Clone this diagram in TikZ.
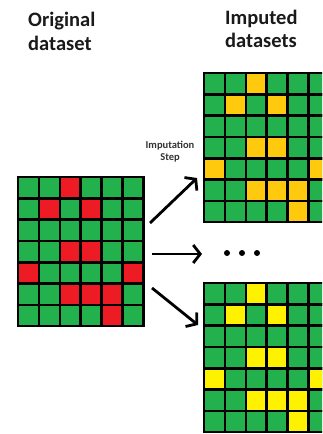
\documentclass[tikz,border=0pt]{standalone}
\usepackage{fontspec}
\setmainfont{Carlito}
\usetikzlibrary{arrows.meta,positioning}
\definecolor{cellgreen}{HTML}{22B14C}
\definecolor{miss}{HTML}{ED1C24}
\definecolor{gold}{HTML}{FFC90E}
\definecolor{lemon}{HTML}{FFF200}
\definecolor{ink}{HTML}{1A1A1A}
\definecolor{note}{HTML}{333333}

% 6x7 table, top left corner at (#1,#2), missing cells filled with #3
\newcommand{\datagrid}[3]{%
  \foreach \c in {0,...,5}
    \foreach \r in {0,...,6}
      \draw[cell] ({#1+\c*20.9},{#2+\r*21.3}) rectangle ++(20.9,21.3);
  \foreach \c/\r in {2/0,1/1,3/1,2/3,3/3,0/4,5/4,2/5,3/5,4/5,4/6}
    \draw[cell,fill=#3] ({#1+\c*20.9},{#2+\r*21.3}) rectangle ++(20.9,21.3);
}

\begin{document}
\begin{tikzpicture}[x=1pt,y=-1pt,
  cell/.style={draw=black,fill=cellgreen,line width=2.6pt},
  title/.style={font=\fontsize{20.5}{23.5}\selectfont\bfseries,text=ink,
                align=left,inner sep=0pt},
  small/.style={font=\fontsize{10.5}{12}\selectfont\bfseries,text=note,
                align=center,inner sep=0pt},
  arr/.style={-{Straight Barb[length=7pt,width=18pt]},line width=2.8pt}
]
\clip (0,0) rectangle (322,434);
\fill[white] (0,0) rectangle (322,434);

\node[title,anchor=base west] (origlbl) at (28,50) {Original\\dataset};
\node[title,anchor=base west] (implbl) at (225,47.5) {Imputed\\datasets};

\datagrid{18}{177}{miss}
\datagrid{204}{73}{gold}
\datagrid{204}{283}{lemon}

\node[small,anchor=base] (step) at (170,160.5) {Imputation\\Step};

% arrow ends
\coordinate (ups) at (150,223);
\coordinate (upe) at (197,178);
\coordinate (mids) at (152,254);
\coordinate (mide) at (202,254);
\coordinate (lows) at (152,288);
\coordinate (lowe) at (198,325);
\draw[arr] (ups) -- (upe);
\draw[arr] (mids) -- (mide);
\draw[arr] (lows) -- (lowe);

% more datasets
\foreach \i in {0,1,2}
  \fill (227+\i*15,253) circle (3);
\end{tikzpicture}
\end{document}
